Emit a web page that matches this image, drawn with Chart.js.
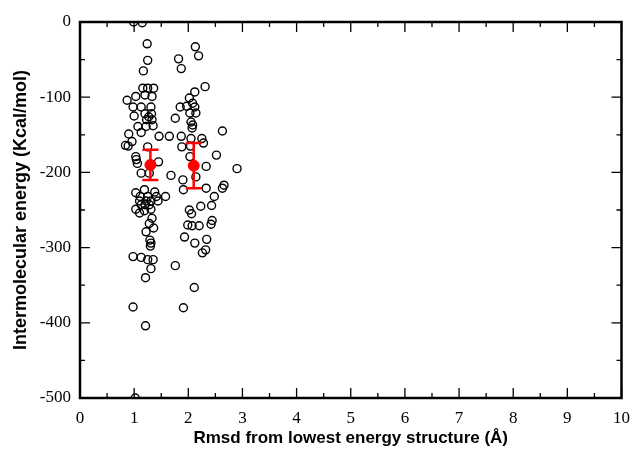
<!DOCTYPE html>
<html>
<head>
<meta charset="utf-8">
<script src="https://cdn.jsdelivr.net/npm/chart.js@4"></script>
<style>
  html, body { margin: 0; padding: 0; background: #fff; }
  #wrap { width: 632px; height: 449px; }
</style>
</head>
<body>
<div id="wrap"><canvas id="scatter"></canvas></div>
<script>
// docked conformations: rmsd (Å) and intermolecular energy (kcal/mol)
const rmsd = [
  0.99, 1.15, 1.24, 1.25, 1.17, 2.13, 2.19, 1.82, 1.87, 2.31, 2.12, 2.02, 0.87, 1.03, 1.16, 1.25,
  1.36, 1.20, 1.33, 0.98, 1.13, 1.31, 1.00, 1.20, 1.32, 1.23, 1.33, 1.27, 1.07, 1.22, 1.35, 1.13,
  0.90, 1.46, 1.65, 0.84, 0.89, 0.96, 1.25, 1.03, 1.04, 1.06, 1.45, 1.76, 1.85, 1.97, 2.12, 2.08,
  2.03, 2.14, 2.05, 2.08, 2.07, 1.87, 2.05, 2.25, 2.28, 2.63, 1.88, 2.04, 2.03, 2.52, 2.33, 2.90,
  1.13, 1.28, 1.68, 1.90, 1.91, 2.14, 2.33, 2.48, 2.63, 2.66, 1.03, 1.19, 1.38, 1.11, 1.25, 1.41,
  1.58, 1.10, 1.22, 1.31, 1.44, 1.13, 1.20, 1.28, 1.03, 1.10, 1.19, 1.31, 2.02, 2.06, 2.23, 2.43,
  1.33, 1.28, 1.36, 1.22, 1.99, 2.07, 2.20, 2.42, 2.44, 1.29, 1.31, 1.30, 1.93, 2.12, 2.34, 2.26,
  2.32, 0.98, 1.13, 1.25, 1.35, 1.31, 1.21, 1.76, 2.11, 0.98, 1.91, 1.21, 1.02
];
const energy = [
  0, -1, -29, -51, -65, -33, -45, -49, -62, -86, -93, -101, -104, -99, -88, -88,
  -88, -97, -99, -113, -113, -113, -125, -122, -122, -130, -130, -126, -139, -139, -138, -147,
  -149, -152, -152, -164, -165, -159, -166, -179, -183, -188, -186, -128, -113, -112, -113, -108,
  -121, -121, -133, -137, -141, -152, -155, -155, -161, -145, -166, -165, -179, -177, -192, -195,
  -201, -201, -204, -210, -223, -206, -221, -232, -221, -217, -227, -223, -226, -232, -232, -232,
  -232, -238, -238, -238, -238, -243, -243, -243, -249, -254, -251, -249, -250, -255, -245, -244,
  -261, -268, -274, -279, -270, -271, -271, -269, -264, -290, -294, -298, -286, -294, -289, -307,
  -303, -312, -313, -316, -316, -328, -340, -324, -353, -379, -380, -404, -500
];

// cluster means with standard deviation
const meanRmsd = [1.30, 2.10];
const meanEnergy = [-190, -191];
const meanErr = [20, 30];

const xTicks = [0, 1, 2, 3, 4, 5, 6, 7, 8, 9, 10];
const yTicks = [0, -100, -200, -300, -400, -500];

// frame, inward ticks and error bars
const framePlugin = {
  id: 'frame',
  afterDatasetsDraw(chart) {
    const { ctx, chartArea: a, scales: { x, y } } = chart;
    ctx.save();
    ctx.strokeStyle = '#000';
    ctx.lineWidth = 1.3;
    ctx.beginPath();
    for (let v = 0; v <= 10.001; v += 0.5) {
      const px = x.getPixelForValue(v);
      const len = Number.isInteger(v) ? 10 : 5;
      ctx.moveTo(px, a.bottom); ctx.lineTo(px, a.bottom - len);
      ctx.moveTo(px, a.top); ctx.lineTo(px, a.top + len);
    }
    for (let v = 0; v >= -500; v -= 50) {
      const py = y.getPixelForValue(v);
      const len = v % 100 === 0 ? 10 : 5;
      ctx.moveTo(a.left, py); ctx.lineTo(a.left + len, py);
      ctx.moveTo(a.right, py); ctx.lineTo(a.right - len, py);
    }
    ctx.stroke();
    ctx.lineWidth = 2.5;
    ctx.strokeRect(a.left, a.top, a.right - a.left, a.bottom - a.top);

    // error bars
    ctx.strokeStyle = '#ff0000';
    ctx.lineWidth = 2.5;
    ctx.beginPath();
    meanRmsd.forEach((m, i) => {
      const px = x.getPixelForValue(m);
      const top = y.getPixelForValue(meanEnergy[i] + meanErr[i]);
      const bot = y.getPixelForValue(meanEnergy[i] - meanErr[i]);
      ctx.moveTo(px, top); ctx.lineTo(px, bot);
      ctx.moveTo(px - 8, top); ctx.lineTo(px + 8, top);
      ctx.moveTo(px - 8, bot); ctx.lineTo(px + 8, bot);
    });
    ctx.stroke();
    ctx.restore();
  }
};

new Chart(document.getElementById('scatter'), {
  type: 'scatter',
  data: {
    datasets: [
      {
        label: 'means',
        data: meanRmsd.map((v, i) => ({ x: v, y: meanEnergy[i] })),
        backgroundColor: '#ff0000',
        borderColor: '#ff0000',
        pointRadius: 5.5,
        borderWidth: 1,
        order: 0
      },
      {
        label: 'conformations',
        data: rmsd.map((v, i) => ({ x: v, y: energy[i] })),
        backgroundColor: 'rgba(0,0,0,0)',
        borderColor: '#000',
        borderWidth: 1.4,
        pointRadius: 4,
        order: 1
      }
    ]
  },
  options: {
    responsive: true,
    maintainAspectRatio: false,
    animation: false,
    layout: { padding: { top: 22, right: 7, left: 0, bottom: 0 } },
    plugins: { legend: { display: false }, tooltip: { enabled: false } },
    scales: {
      x: {
        type: 'linear',
        min: 0,
        max: 10,
        afterBuildTicks: s => { s.ticks = xTicks.map(v => ({ value: v })); },
        afterFit: s => { s.height = 51; },
        grid: { display: false },
        border: { display: false },
        ticks: {
          color: '#000',
          padding: 2,
          maxRotation: 0,
          font: { family: 'Liberation Serif', size: 17 }
        },
        title: {
          display: true,
          text: 'Rmsd from lowest energy structure (Å)',
          color: '#000',
          padding: { top: 4, bottom: 0 },
          font: { family: 'Liberation Sans', size: 17, weight: 'bold' }
        }
      },
      y: {
        type: 'linear',
        min: -500,
        max: 0,
        afterBuildTicks: s => { s.ticks = yTicks.map(v => ({ value: v })); },
        afterFit: s => { s.width = 80; },
        grid: { display: false },
        border: { display: false },
        ticks: {
          color: '#000',
          padding: 1,
          font: { family: 'Liberation Serif', size: 17 }
        },
        title: {
          display: true,
          text: 'Intermolecular energy (Kcal/mol)',
          color: '#000',
          padding: { top: 10, bottom: 0 },
          font: { family: 'Liberation Sans', size: 18, weight: 'bold' }
        }
      }
    }
  },
  plugins: [framePlugin]
});
</script>
</body>
</html>
